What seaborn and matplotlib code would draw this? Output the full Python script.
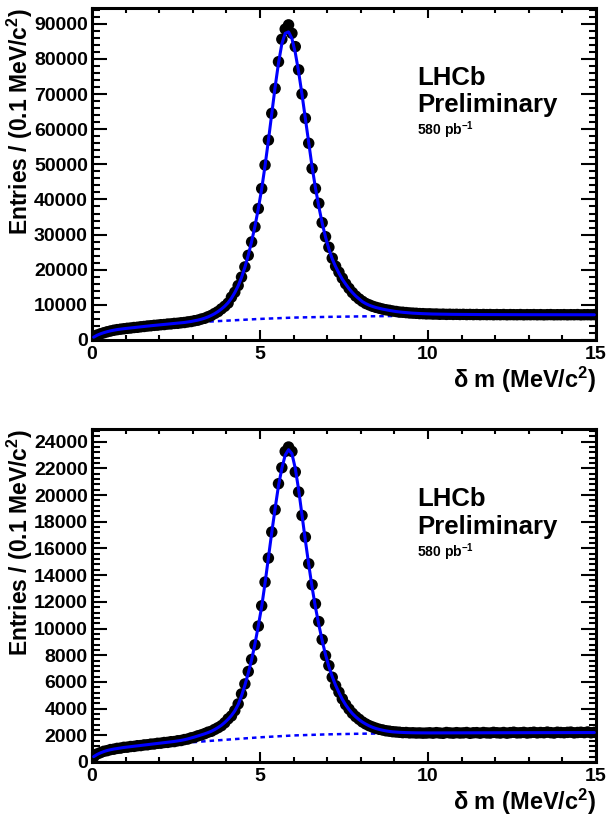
import numpy as np
import pandas as pd
import seaborn as sns
import matplotlib
matplotlib.use("Agg")
import matplotlib.pyplot as plt
from matplotlib.ticker import MultipleLocator

# ---------------- data ----------------
bin_centers = np.round(np.arange(150) * 0.1 + 0.05, 2)

top_data = [
    900, 1400, 1750, 2050, 2330, 2560, 2780, 2950, 3080, 3200,
    3330, 3410, 3550, 3620, 3760, 3850, 3980, 4050, 4170, 4230,
    4350, 4400, 4540, 4580, 4720, 4760, 4900, 4980, 5150, 5260,
    5480, 5640, 5950, 6180, 6600, 6990, 7550, 8080, 8850, 9600,
    10500, 12200, 13600, 15500, 17900, 20800, 24100, 27900, 32200, 37400,
    43100, 49800, 56900, 64500, 71600, 79200, 85600, 88500, 89700, 87300,
    83500, 76900, 70000, 63100, 56000, 48800, 43100, 38900, 33400, 29400,
    26400, 23300, 21000, 19300, 17600, 16000, 14700, 13500, 12500, 11700,
    11000, 10400, 10000, 9600, 9300, 9050, 8800, 8600, 8450, 8250,
    8120, 7950, 7900, 7800, 7700, 7650, 7600, 7520, 7500, 7430,
    7450, 7380, 7400, 7320, 7360, 7290, 7330, 7280, 7310, 7260,
    7300, 7240, 7280, 7230, 7270, 7210, 7260, 7220, 7250, 7190,
    7240, 7200, 7250, 7180, 7230, 7210, 7190, 7240, 7170, 7220,
    7200, 7230, 7180, 7220, 7160, 7210, 7230, 7170, 7200, 7190,
    7220, 7170, 7210, 7190, 7230, 7160, 7200, 7210, 7180, 7220,
]
top_fit = [
    800, 1350, 1750, 2080, 2360, 2600, 2800, 2970, 3110, 3220,
    3320, 3420, 3530, 3640, 3750, 3860, 3960, 4060, 4150, 4240,
    4330, 4420, 4510, 4600, 4690, 4780, 4880, 4990, 5120, 5270,
    5450, 5660, 5900, 6200, 6560, 7000, 7500, 8100, 8800, 9620,
    10600, 11900, 13500, 15400, 17800, 20700, 24100, 28000, 32400, 37400,
    43000, 49600, 56800, 64400, 72000, 78800, 84300, 87300, 87700, 85800,
    81800, 76300, 69900, 63000, 56000, 49300, 43300, 38000, 33300, 29300,
    25900, 23100, 20900, 19000, 17300, 15900, 14600, 13500, 12500, 11700,
    10900, 10350, 9900, 9550, 9250, 9000, 8780, 8590, 8420, 8260,
    8100, 7980, 7880, 7790, 7710, 7640, 7580, 7530, 7490, 7450,
    7420, 7390, 7370, 7350, 7330, 7320, 7310, 7300, 7290, 7280,
    7270, 7265, 7260, 7255, 7250, 7245, 7240, 7235, 7230, 7225,
    7222, 7220, 7218, 7216, 7214, 7212, 7210, 7208, 7206, 7204,
    7203, 7202, 7201, 7200, 7199, 7198, 7197, 7196, 7195, 7194,
    7193, 7192, 7191, 7190, 7189, 7188, 7187, 7186, 7185, 7184,
]
bkg_x = [0, 0.25, 0.5, 0.75, 1, 1.5, 2, 2.5, 3, 3.5, 4, 5, 6, 7, 8, 9, 10, 11, 12, 13, 14, 15]
top_bkg = [700, 1700, 2450, 2880, 3180, 3750, 4250, 4650, 4980, 5250, 5500,
           6000, 6380, 6580, 6720, 6830, 6940, 7020, 7080, 7120, 7150, 7170]

bot_data = [
    380, 600, 700, 800, 850, 930, 960, 1020, 1040, 1100,
    1110, 1160, 1170, 1220, 1230, 1280, 1290, 1340, 1350, 1400,
    1410, 1460, 1470, 1520, 1530, 1590, 1610, 1680, 1720, 1810,
    1860, 1960, 2030, 2120, 2230, 2300, 2440, 2570, 2720, 2940,
    3230, 3450, 3850, 4350, 5100, 5850, 6780, 7680, 8780, 10180,
    11700, 13480, 15280, 17230, 18900, 20850, 22050, 23270, 23600, 23270,
    21730, 20230, 18470, 16850, 14850, 13280, 11850, 10520, 9170, 7970,
    7220, 6350, 5720, 5230, 4730, 4300, 3960, 3650, 3400, 3200,
    3000, 2850, 2720, 2620, 2530, 2450, 2400, 2340, 2310, 2270,
    2250, 2230, 2200, 2210, 2180, 2190, 2170, 2180, 2160, 2170,
    2190, 2160, 2200, 2170, 2150, 2210, 2180, 2160, 2200, 2170,
    2180, 2210, 2150, 2190, 2200, 2160, 2210, 2180, 2170, 2220,
    2190, 2170, 2210, 2160, 2200, 2230, 2180, 2190, 2220, 2170,
    2200, 2230, 2180, 2210, 2190, 2240, 2200, 2170, 2230, 2210,
    2190, 2220, 2240, 2180, 2210, 2230, 2200, 2250, 2190, 2220,
]
bot_fit = [
    400, 560, 680, 780, 860, 920, 970, 1010, 1050, 1090,
    1120, 1150, 1180, 1210, 1240, 1270, 1300, 1330, 1360, 1390,
    1420, 1450, 1480, 1510, 1540, 1580, 1620, 1670, 1730, 1800,
    1870, 1950, 2030, 2110, 2200, 2300, 2430, 2580, 2750, 2960,
    3200, 3480, 3830, 4300, 4950, 5750, 6650, 7650, 8850, 10200,
    11650, 13400, 15300, 17200, 19000, 20700, 22000, 23000, 23400, 23100,
    22000, 20400, 18500, 16600, 14800, 13100, 11600, 10300, 9100, 8050,
    7150, 6400, 5750, 5200, 4700, 4280, 3930, 3630, 3380, 3170,
    2990, 2840, 2710, 2600, 2510, 2440, 2380, 2330, 2290, 2260,
    2240, 2225, 2212, 2202, 2195, 2190, 2186, 2183, 2181, 2180,
    2180, 2180, 2181, 2181, 2182, 2182, 2183, 2183, 2184, 2184,
    2185, 2186, 2187, 2188, 2189, 2189, 2190, 2190, 2191, 2191,
    2192, 2192, 2193, 2193, 2194, 2194, 2195, 2195, 2196, 2196,
    2197, 2197, 2198, 2198, 2199, 2199, 2200, 2200, 2201, 2201,
    2202, 2202, 2203, 2203, 2204, 2204, 2205, 2205, 2206, 2206,
]
bot_bkg = [380, 590, 750, 880, 980, 1160, 1300, 1400, 1480, 1580, 1670,
           1850, 1990, 2070, 2120, 2150, 2165, 2175, 2185, 2190, 2195, 2200]

panels = [
    dict(data=top_data, fit=top_fit, bkg=top_bkg, ymax=94500, major=10000, minor=2000),
    dict(data=bot_data, fit=bot_fit, bkg=bot_bkg, ymax=24950, major=2000, minor=400),
]

x_ticks = [0, 5, 10, 15]
ylabel = "Entries / (0.1 MeV/c$^{2}$)"
xlabel = r"$\delta$ m (MeV/c$^{2}$)"
exp_text = ["LHCb", "Preliminary"]
lumi_text = "580 pb$^{-1}$"

# ---------------- style ----------------
sns.set_theme(style="ticks")
plt.rcParams["font.family"] = ["Liberation Sans", "DejaVu Sans"]
plt.rcParams["font.weight"] = "bold"
plt.rcParams["text.color"] = "black"
plt.rcParams["axes.labelcolor"] = "black"
plt.rcParams["xtick.color"] = "black"
plt.rcParams["ytick.color"] = "black"
plt.rcParams["axes.edgecolor"] = "black"
plt.rcParams["mathtext.fontset"] = "custom"
plt.rcParams["mathtext.rm"] = "Liberation Sans:bold"
plt.rcParams["mathtext.it"] = "Liberation Sans:bold"
plt.rcParams["mathtext.bf"] = "Liberation Sans:bold"
plt.rcParams["mathtext.sf"] = "Liberation Sans:bold"
plt.rcParams["axes.linewidth"] = 2.2

W, H = 607, 818
fig = plt.figure(figsize=(W / 100, H / 100), dpi=100)
rects = [(92, 8, 596, 340), (92, 429, 596, 762)]

BLUE = "#0000ff"
for p, (l, t, r, b) in zip(panels, rects):
    ax = fig.add_axes([l / W, 1 - b / H, (r - l) / W, (b - t) / H])
    df = pd.DataFrame({"x": bin_centers, "y": p["data"], "fit": p["fit"]})
    dfb = pd.DataFrame({"x": bkg_x, "y": p["bkg"]})
    sns.lineplot(data=dfb, x="x", y="y", ax=ax, color=BLUE, lw=1.8,
                 linestyle=(0, (1.8, 1.6)), zorder=1)
    sns.scatterplot(data=df, x="x", y="y", ax=ax, color="black", s=68,
                    edgecolor="none", linewidth=0, zorder=2)
    sns.lineplot(data=df, x="x", y="fit", ax=ax, color=BLUE, lw=2.2, zorder=3)

    ax.set_xlim(0, 15)
    ax.set_ylim(0, p["ymax"])
    ax.set_xticks(x_ticks)
    ax.xaxis.set_minor_locator(MultipleLocator(1))
    ax.yaxis.set_major_locator(MultipleLocator(p["major"]))
    ax.yaxis.set_minor_locator(MultipleLocator(p["minor"]))
    ax.tick_params(axis="both", which="both", direction="in", top=True, right=True,
                   width=1.5, labelsize=14, colors="black")
    ax.tick_params(axis="x", which="major", length=7.2, pad=4)
    ax.tick_params(axis="x", which="minor", length=3.6)
    ax.tick_params(axis="y", which="major", length=10.8, pad=3)
    ax.tick_params(axis="y", which="minor", length=5.4)
    for lab in ax.get_xticklabels() + ax.get_yticklabels():
        lab.set_fontweight("bold")

    ax.set_ylabel(ylabel, loc="top", fontsize=16.5, fontweight="bold")
    ax.yaxis.set_label_coords(-0.113, 1.0)
    ax.set_xlabel(xlabel, loc="right", fontsize=17, fontweight="bold")
    ax.xaxis.set_label_coords(1.0, -0.075)

    ax.text(0.645, 0.768, exp_text[0], transform=ax.transAxes, fontsize=18.5,
            fontweight="bold", ha="left", va="baseline")
    ax.text(0.645, 0.686, exp_text[1], transform=ax.transAxes, fontsize=18.5,
            fontweight="bold", ha="left", va="baseline")
    ax.text(0.645, 0.617, lumi_text, transform=ax.transAxes, fontsize=10,
            fontweight="bold", ha="left", va="baseline")
    for s in ax.spines.values():
        s.set_visible(True)
        s.set_color("black")

fig.savefig("out.png", dpi=100)
